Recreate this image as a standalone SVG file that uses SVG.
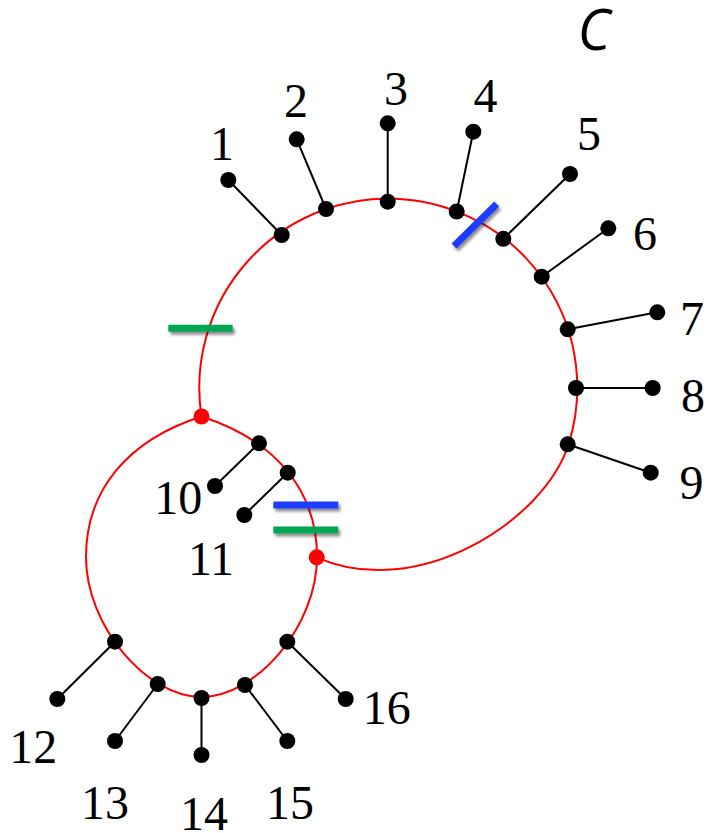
<svg xmlns="http://www.w3.org/2000/svg" width="707" height="833" viewBox="0 0 707 833">
  <defs>
    <filter id="shadow" filterUnits="userSpaceOnUse" x="0" y="0" width="707" height="833">
      <feGaussianBlur in="SourceAlpha" stdDeviation="1.5"/>
      <feOffset dx="2" dy="3" result="off"/>
      <feComponentTransfer><feFuncA type="linear" slope="0.45"/></feComponentTransfer>
      <feMerge><feMergeNode/><feMergeNode in="SourceGraphic"/></feMerge>
    </filter>
  </defs>
  <style>
    .loop { fill: none; stroke: #ff0000; stroke-width: 2; }
    .stem { stroke: #000; stroke-width: 2; }
    .dot { fill: #000; }
    .junction { fill: #ff0000; }
    .lbl { font-size: 48px; fill: #000; text-anchor: middle; }
    .bar { stroke-width: 7; }
    .blue { stroke: #1a3cff; }
    .green { stroke: #00a651; }
  </style>
  <rect width="707" height="833" fill="#fff"/>

  <text x="594" y="50" font-family="'Open Sans', 'Noto Sans', sans-serif" font-style="italic" font-size="56" text-anchor="middle" fill="#000">C</text>

  <g id="connectors">
    <!-- large loop: circular arc over the top, flattened return to the lower junction -->
    <path class="loop" d="M201.5,416.5 A189,189 0 1 1 568.5,444.5 C544,521 417,602 316.7,557.3"/>
    <!-- small loop through both junctions -->
    <path class="loop" d="M201.5,416.5 C275,440 317,490 317,557 C317,625 258,696 201.5,697 C145,696 86,625 86,557 C86,490 128,440 201.5,416.5 Z"/>
    <!-- stems -->
    <line class="stem" x1="281.7" y1="235" x2="228.3" y2="180"/>
    <line class="stem" x1="326" y1="209" x2="296.7" y2="139.3"/>
    <line class="stem" x1="387.7" y1="201.7" x2="387.7" y2="123.3"/>
    <line class="stem" x1="456.7" y1="211.5" x2="473.3" y2="131.7"/>
    <line class="stem" x1="503.3" y1="238.8" x2="570" y2="174"/>
    <line class="stem" x1="541.7" y1="276.7" x2="608.3" y2="228.3"/>
    <line class="stem" x1="567.7" y1="329.3" x2="657.3" y2="312.3"/>
    <line class="stem" x1="576" y1="388" x2="652.7" y2="388"/>
    <line class="stem" x1="567.7" y1="444.3" x2="650.7" y2="472.7"/>
    <line class="stem" x1="259" y1="443.3" x2="215" y2="486"/>
    <line class="stem" x1="287.7" y1="472.7" x2="244.3" y2="515"/>
    <line class="stem" x1="115" y1="641.7" x2="57.3" y2="699"/>
    <line class="stem" x1="157.7" y1="684" x2="115" y2="741"/>
    <line class="stem" x1="201.5" y1="698" x2="201.5" y2="755"/>
    <line class="stem" x1="245" y1="685" x2="287.3" y2="741"/>
    <line class="stem" x1="287.3" y1="641.7" x2="345.7" y2="699"/>
  </g>

  <g id="cuts" filter="url(#shadow)">
    <line class="bar blue" x1="454" y1="246" x2="496.7" y2="204"/>
    <line class="bar green" x1="168.3" y1="328.3" x2="232.7" y2="328.3"/>
    <line class="bar blue" x1="273.3" y1="505" x2="338.3" y2="505"/>
    <line class="bar green" x1="273.3" y1="530" x2="338.3" y2="530"/>
  </g>

  <g id="junction-a"><circle class="junction" cx="201.5" cy="416.5" r="8"/></g>
  <g id="junction-b"><circle class="junction" cx="316.7" cy="557.3" r="8"/></g>

  <g font-family="'Liberation Serif', 'DejaVu Serif', 'Times New Roman', serif">
  <g id="node-1"><circle class="dot" cx="281.7" cy="235" r="8"/><circle class="dot" cx="228.3" cy="180" r="8"/><text class="lbl" x="222" y="160">1</text></g>
  <g id="node-2"><circle class="dot" cx="326" cy="209" r="8"/><circle class="dot" cx="296.7" cy="139.3" r="8"/><text class="lbl" x="296" y="117">2</text></g>
  <g id="node-3"><circle class="dot" cx="387.7" cy="201.7" r="8"/><circle class="dot" cx="387.7" cy="123.3" r="8"/><text class="lbl" x="396" y="105">3</text></g>
  <g id="node-4"><circle class="dot" cx="456.7" cy="211.5" r="8"/><circle class="dot" cx="473.3" cy="131.7" r="8"/><text class="lbl" x="485.5" y="112">4</text></g>
  <g id="node-5"><circle class="dot" cx="503.3" cy="238.8" r="8"/><circle class="dot" cx="570" cy="174" r="8"/><text class="lbl" x="589" y="150">5</text></g>
  <g id="node-6"><circle class="dot" cx="541.7" cy="276.7" r="8"/><circle class="dot" cx="608.3" cy="228.3" r="8"/><text class="lbl" x="645" y="249.5">6</text></g>
  <g id="node-7"><circle class="dot" cx="567.7" cy="329.3" r="8"/><circle class="dot" cx="657.3" cy="312.3" r="8"/><text class="lbl" x="692" y="335">7</text></g>
  <g id="node-8"><circle class="dot" cx="576" cy="388" r="8"/><circle class="dot" cx="652.7" cy="388" r="8"/><text class="lbl" x="693" y="412">8</text></g>
  <g id="node-9"><circle class="dot" cx="567.7" cy="444.3" r="8"/><circle class="dot" cx="650.7" cy="472.7" r="8"/><text class="lbl" x="691.5" y="499">9</text></g>
  <g id="node-10"><circle class="dot" cx="259" cy="443.3" r="8"/><circle class="dot" cx="215" cy="486" r="8"/><text class="lbl" x="178.3" y="513.5">10</text></g>
  <g id="node-11"><circle class="dot" cx="287.7" cy="472.7" r="8"/><circle class="dot" cx="244.3" cy="515" r="8"/><text class="lbl" x="211" y="575">11</text></g>
  <g id="node-12"><circle class="dot" cx="115" cy="641.7" r="8"/><circle class="dot" cx="57.3" cy="699" r="8"/><text class="lbl" x="33.3" y="763">12</text></g>
  <g id="node-13"><circle class="dot" cx="157.7" cy="684" r="8"/><circle class="dot" cx="115" cy="741" r="8"/><text class="lbl" x="105" y="818.5">13</text></g>
  <g id="node-14"><circle class="dot" cx="201.5" cy="698" r="8"/><circle class="dot" cx="201.5" cy="755" r="8"/><text class="lbl" x="204" y="830">14</text></g>
  <g id="node-15"><circle class="dot" cx="245" cy="685" r="8"/><circle class="dot" cx="287.3" cy="741" r="8"/><text class="lbl" x="290" y="818.5">15</text></g>
  <g id="node-16"><circle class="dot" cx="287.3" cy="641.7" r="8"/><circle class="dot" cx="345.7" cy="699" r="8"/><text class="lbl" x="386.7" y="724">16</text></g>
  </g>
</svg>
